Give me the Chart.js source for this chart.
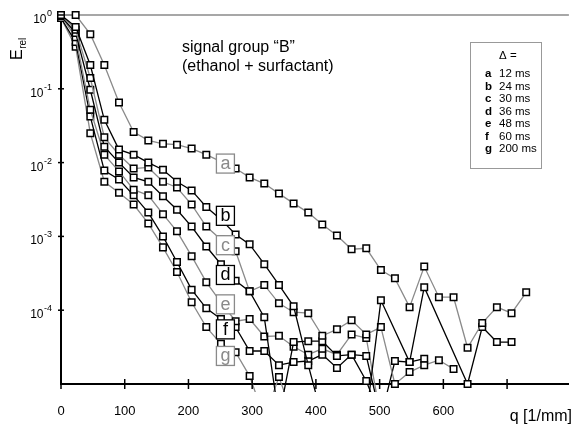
<!DOCTYPE html>
<html>
<head>
<meta charset="utf-8">
<script src="https://cdn.jsdelivr.net/npm/chart.js@4.4.0/dist/chart.umd.min.js"></script>
<style>
  html, body { margin: 0; padding: 0; background: #fff; }
  #wrap { width: 575px; height: 426px; }
</style>
</head>
<body>
<div id="wrap"><canvas id="chart" width="575" height="426"></canvas></div>
<script>
// q in 1/mm
const q = [0, 23, 46, 68, 91, 114, 137, 160, 182, 205, 228, 251, 274, 296, 319, 342, 365,
           388, 410, 433, 456, 479, 502, 524, 547, 570, 593, 616, 638, 661, 684, 707, 730];

// relative echo attenuation, one list per delta; null = no point, 3.5e-6 = below the axis
const serA = [1, 1, 0.55, 0.21, 0.065, 0.026, 0.020, 0.018, 0.0175, 0.0155, 0.0128, 0.0103, 0.0083,
              0.0063, 0.0052, 0.0038, 0.0028, 0.0021, 0.00145, 0.00103, 0.00067, 0.00069, 0.00035,
              0.00027, 0.00011, 0.00039, 0.00015, 0.00015, 3.1e-5, 6.7e-5, 0.00011, 9.1e-5, 0.000175];
const serB = [1, 0.69, 0.21, 0.038, 0.015, 0.0128, 0.010, 0.008, 0.0055, 0.0042, 0.0025, 0.0017, 0.00106,
              7.8e-4, 4.2e-4, 2.2e-4, 1.13e-4, 1.8e-5, 3.5e-6, 3.5e-6, 3.5e-6, 3.5e-6, 1.36e-4, null,
              1.98e-5, 2.05e-4, null, null, 1.0e-5, 5.9e-5, 3.7e-5, 3.7e-5];
const serC = [1, 0.63, 0.14, 0.022, 0.0128, 0.0083, 0.0086, 0.0055, 0.0046, 0.0027, 0.00136, 0.00091, 0.00063,
              1.8e-4, 2.2e-4, 1.24e-4, 9.4e-5, 9.1e-5, 4.5e-5, 5.5e-5, 7.3e-5, 4.7e-5, 5.9e-5, 1.0e-5,
              1.45e-5, 1.8e-5, 2.1e-5, 1.6e-5];
const serD = [0.97, 0.57, 0.097, 0.0164, 0.010, 0.0063, 0.0055, 0.0035, 0.0023, 0.00136, 0.00073, 0.00042,
              0.00025, 1.8e-4, 8.0e-5, 3.5e-6, 3.7e-5, 3.8e-5, 3.8e-5, 2.4e-5, 2.5e-5, 2.4e-5, 3.5e-6,
              2.05e-5, 1.98e-5, 2.2e-5];
const serE = [0.97, 0.50, 0.052, 0.0128, 0.0076, 0.0043, 0.0036, 0.0020, 0.00117, 0.00054, 0.00024,
              0.000128, 7.1e-5, 7.6e-5, 4.4e-5, 4.5e-5, 3.2e-5, 2.5e-5, 3.0e-5, 2.5e-5, 4.7e-5, 4.2e-5, 3.5e-6];
const serF = [0.91, 0.43, 0.042, 0.0078, 0.0059, 0.0036, 0.0021, 0.001, 0.00045, 0.00019, 0.000106,
              7.6e-5, 5.9e-5, 2.8e-5, 2.8e-5, 1.8e-5, 1.98e-5, 2.05e-5, 2.5e-5, 1.65e-5, 2.5e-5, 1.1e-5, 3.5e-6];
const serG = [0.91, 0.37, 0.025, 0.0055, 0.0039, 0.0027, 0.0015, 0.00071, 0.00033, 0.000128, 5.9e-5,
              3.5e-5, 2.7e-5, 1.28e-5, 3.5e-6, 1.24e-5, 3.5e-6];

const seriesNames = ['a', 'b', 'c', 'd', 'e', 'f', 'g'];
const deltas = ['12 ms', '24 ms', '30 ms', '36 ms', '48 ms', '60 ms', '200 ms'];
const seriesData = [serA, serB, serC, serD, serE, serF, serG];
const seriesGray = [true, false, true, false, true, false, true];

// where the letter tags sit on the curves (q, E)
const tagQ = 258;
const tagE = [0.0097, 0.0019, 0.00076, 0.0003, 0.00012, 5.5e-5, 2.4e-5];

const yTicks = [1, 0.1, 0.01, 0.001, 0.0001];
const xTicks = [0, 100, 200, 300, 400, 500, 600, 700];
const xLabels = ['0', '100', '200', '300', '400', '500', '600', ''];

const GRAY = '#8a8a8a';
const FONT = '"Liberation Sans", Arial, sans-serif';

const datasets = seriesData.map((vals, i) => ({
  label: seriesNames[i],
  data: vals.map((v, k) => ({ x: q[k], y: v })),
  borderColor: seriesGray[i] ? GRAY : '#000',
  borderWidth: 1.3,
  pointStyle: 'rect',
  pointRadius: 4.6,
  pointBackgroundColor: '#fff',
  pointBorderColor: '#000',
  pointBorderWidth: 1.5,
  spanGaps: true,
  tension: 0,
  clip: { left: 10, top: 10, right: 10, bottom: 8 }
}));

const decor = {
  id: 'decor',
  beforeDatasetsDraw(chart) {
    const { ctx, chartArea, scales: { y } } = chart;
    ctx.save();
    // reference line at E = 1
    const y1 = y.getPixelForValue(1);
    ctx.strokeStyle = GRAY;
    ctx.lineWidth = 1.5;
    ctx.beginPath();
    ctx.moveTo(chartArea.left, y1);
    ctx.lineTo(chartArea.right, y1);
    ctx.stroke();
    ctx.restore();
  },
  afterDatasetsDraw(chart) {
    const { ctx, scales: { x, y } } = chart;
    ctx.save();
    // letter tags on the curves
    ctx.font = '18px ' + FONT;
    ctx.textAlign = 'center';
    ctx.textBaseline = 'middle';
    seriesNames.forEach((name, i) => {
      const cx = x.getPixelForValue(tagQ);
      const cy = y.getPixelForValue(tagE[i]);
      const col = seriesGray[i] ? GRAY : '#000';
      ctx.fillStyle = '#fff';
      ctx.fillRect(cx - 9, cy - 9.5, 18, 19);
      ctx.strokeStyle = col;
      ctx.lineWidth = 1.3;
      ctx.strokeRect(cx - 9, cy - 9.5, 18, 19);
      ctx.fillStyle = col;
      ctx.fillText(name, cx, cy + 0.5);
    });
    ctx.restore();
  },
  afterDraw(chart) {
    const { ctx, chartArea, scales: { x, y } } = chart;
    ctx.save();
    ctx.strokeStyle = '#000';
    ctx.lineWidth = 1.5;
    ctx.fillStyle = '#000';

    // y ticks crossing the axis, labels as powers of ten
    yTicks.forEach(v => {
      const py = y.getPixelForValue(v);
      ctx.beginPath();
      ctx.moveTo(chartArea.left - 3, py);
      ctx.lineTo(chartArea.left + 3, py);
      ctx.stroke();
      const ex = String(Math.round(Math.log10(v)));
      ctx.font = '9px ' + FONT;
      ctx.textAlign = 'right';
      ctx.textBaseline = 'alphabetic';
      const ew = ctx.measureText(ex).width;
      ctx.fillText(ex, 52, py + 1);
      ctx.font = '12px ' + FONT;
      ctx.fillText('10', 52 - ew - 0.5, py + 8);
    });

    // x ticks crossing the axis
    xTicks.forEach((v, i) => {
      const px = x.getPixelForValue(v);
      ctx.beginPath();
      ctx.moveTo(px, chartArea.bottom - 5);
      ctx.lineTo(px, chartArea.bottom + 5);
      ctx.stroke();
      ctx.font = '13px ' + FONT;
      ctx.textAlign = 'center';
      ctx.textBaseline = 'alphabetic';
      ctx.fillText(xLabels[i], px, 415);
    });

    // axis titles
    ctx.font = '16px ' + FONT;
    ctx.textAlign = 'right';
    ctx.fillText('q [1/mm]', 572, 421);

    ctx.save();
    ctx.translate(22, 60);
    ctx.rotate(-Math.PI / 2);
    ctx.textAlign = 'left';
    ctx.font = '16px ' + FONT;
    ctx.fillText('E', 0, 0);
    const eW = ctx.measureText('E').width;
    ctx.font = '10px ' + FONT;
    ctx.fillText('rel', eW + 0.5, 4);
    ctx.restore();

    // heading inside the plot
    ctx.font = '16px ' + FONT;
    ctx.textAlign = 'left';
    ctx.fillText('signal group \u201CB\u201D', 182, 52);
    ctx.fillText('(ethanol + surfactant)', 182, 71);

    // key of the deltas
    ctx.strokeStyle = '#999';
    ctx.lineWidth = 1;
    ctx.strokeRect(470.5, 42.5, 71, 126);
    ctx.font = '11.5px ' + FONT;
    ctx.textAlign = 'left';
    ctx.fillText('\u0394 =', 499, 59);
    seriesNames.forEach((name, i) => {
      const by = 77 + i * 12.5;
      ctx.font = 'bold 11.5px ' + FONT;
      ctx.fillText(name, 485, by);
      ctx.font = '11.5px ' + FONT;
      ctx.fillText(deltas[i], 499, by);
    });
    ctx.restore();
  }
};

new Chart(document.getElementById('chart'), {
  type: 'line',
  data: { datasets },
  options: {
    responsive: false,
    animation: false,
    devicePixelRatio: 1,
    layout: { padding: { left: 61, top: 15, right: 0, bottom: 42 } },
    plugins: { legend: { display: false }, tooltip: { enabled: false } },
    scales: {
      x: {
        type: 'linear',
        min: 0,
        max: 797,
        grid: { display: false, drawTicks: false },
        ticks: { display: false },
        border: { color: '#000', width: 2 }
      },
      y: {
        type: 'logarithmic',
        min: 1e-5,
        max: 1,
        grid: { display: false, drawTicks: false },
        ticks: { display: false },
        border: { color: '#000', width: 2 }
      }
    }
  },
  plugins: [decor]
});
</script>
</body>
</html>
